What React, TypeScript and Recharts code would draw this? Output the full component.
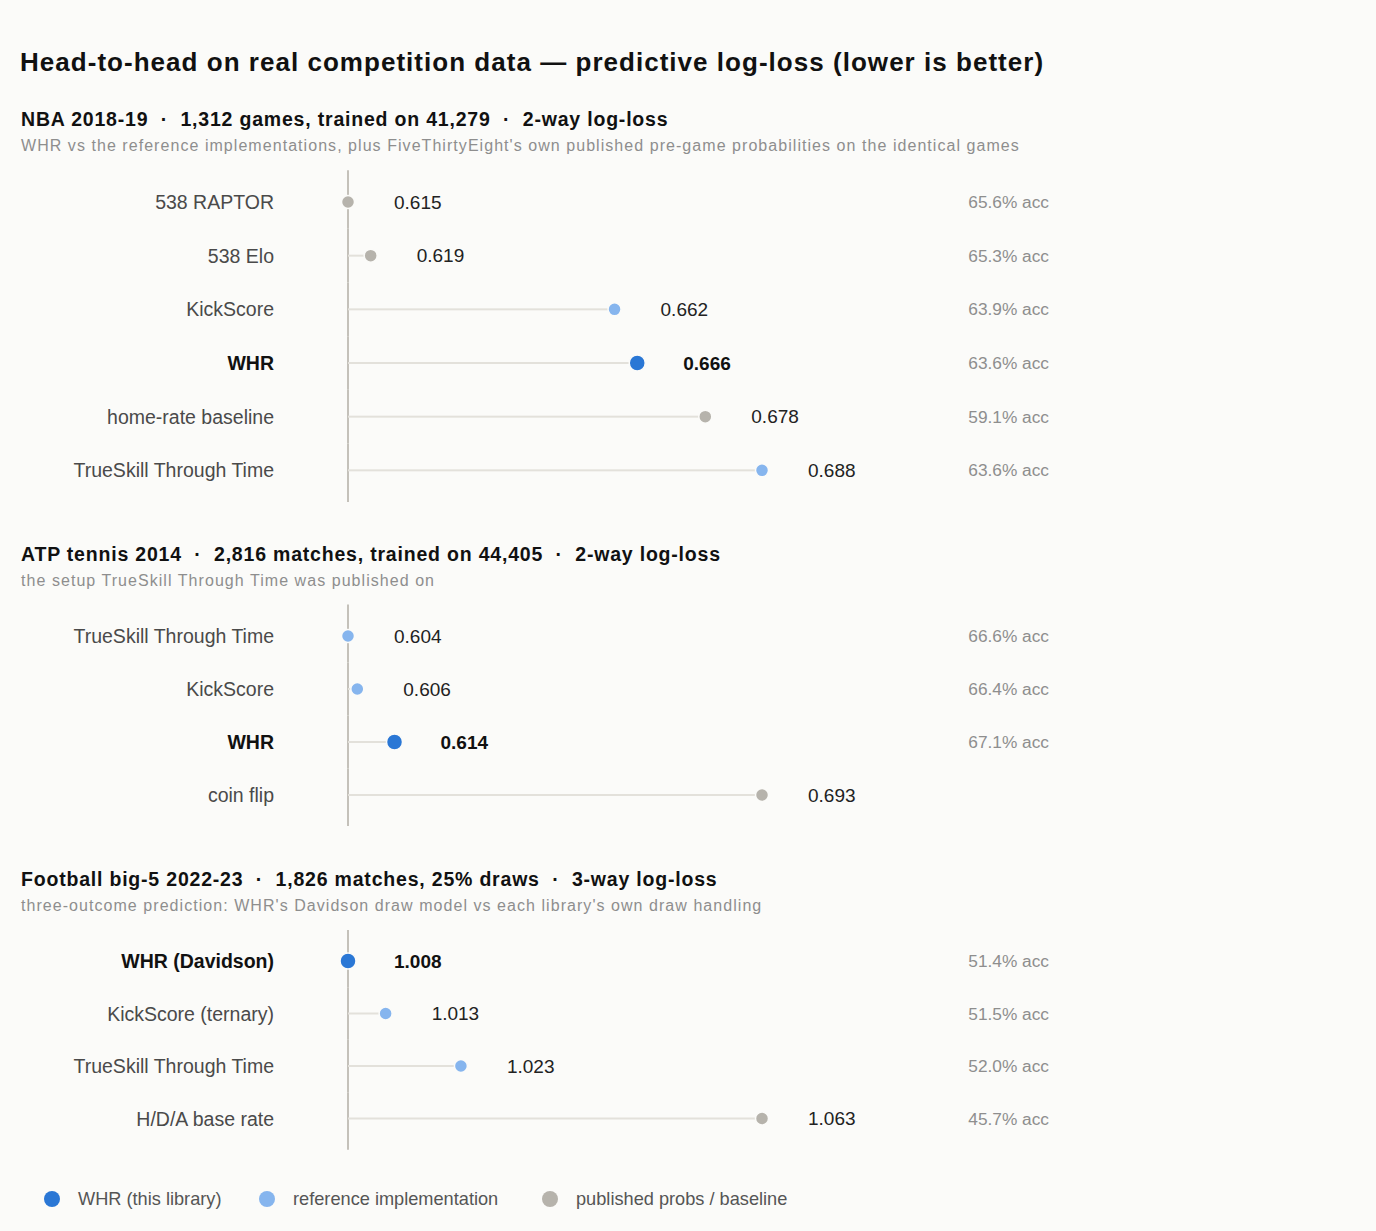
import React from 'react';
import { ComposedChart, Bar, XAxis, YAxis } from 'recharts';

// ---------- data ----------
const nbaNames = ['538 RAPTOR', '538 Elo', 'KickScore', 'WHR', 'home-rate baseline', 'TrueSkill Through Time'];
const nbaLoss = [0.615, 0.619, 0.662, 0.666, 0.678, 0.688];
const nbaAcc = [65.6, 65.3, 63.9, 63.6, 59.1, 63.6];
const nbaKind = ['pub', 'pub', 'ref', 'whr', 'pub', 'ref'];

const atpNames = ['TrueSkill Through Time', 'KickScore', 'WHR', 'coin flip'];
const atpLoss = [0.604, 0.606, 0.614, 0.693];
const atpAcc: (number | null)[] = [66.6, 66.4, 67.1, null];
const atpKind = ['ref', 'ref', 'whr', 'pub'];

const fbNames = ['WHR (Davidson)', 'KickScore (ternary)', 'TrueSkill Through Time', 'H/D/A base rate'];
const fbLoss = [1.008, 1.013, 1.023, 1.063];
const fbAcc = [51.4, 51.5, 52.0, 45.7];
const fbKind = ['whr', 'ref', 'ref', 'pub'];

const legendKinds = ['whr', 'ref', 'pub'];
const legendLabels = ['WHR (this library)', 'reference implementation', 'published probs / baseline'];

// ---------- style ----------
const FONT = '"Liberation Sans", Arial, Helvetica, sans-serif';
const BG = '#fbfbf9';
const COLORS: Record<string, string> = { whr: '#2a77d5', ref: '#86b5ee', pub: '#b6b3ac' };
const AXIS = '#c4c1ba';
const PAD = 5;

type Row = { name: string; loss: number; acc: number | null; kind: string };
const build = (names: string[], loss: number[], acc: (number | null)[], kind: string[]): Row[] =>
  names.map((n, i) => ({ name: n, loss: loss[i], acc: acc[i], kind: kind[i] }));

const makeShape = (count: number, plotHeight: number) => (props: any) => {
  const { x, y, width, height, payload, index } = props;
  const band = (plotHeight - 2 * PAD) / count;
  const cy = y + height / 2;
  const cx = x + width;
  const isWhr = payload.kind === 'whr';
  const r = isWhr ? 8 : 6.5;
  let y0 = cy - band / 2;
  let y1 = cy + band / 2;
  if (index === 0) y0 -= PAD;
  if (index === count - 1) y1 += PAD;
  return (
    <g>
      <line x1={x} x2={x} y1={y0} y2={y1} stroke={AXIS} strokeWidth={2} />
      <rect x={x} y={cy - 1} width={Math.max(width, 0)} height={2} fill="#e3e1db" />
      <circle cx={cx} cy={cy} r={r} fill={COLORS[payload.kind]} stroke={BG} strokeWidth={1.5} />
      <text
        x={cx + 46}
        y={cy + 6.5}
        fontFamily={FONT}
        fontSize={19}
        fontWeight={isWhr ? 700 : 400}
        fill={isWhr ? '#111' : '#222'}
      >
        {payload.loss.toFixed(3)}
      </text>
    </g>
  );
};

const makeTick = (rows: Row[]) => (props: any) => {
  const { x, y, payload } = props;
  const row = rows.find((r) => r.name === payload.value);
  const isWhr = row?.kind === 'whr';
  return (
    <g>
      <text
        x={x}
        y={y + 7}
        textAnchor="end"
        fontFamily={FONT}
        fontSize={19.5}
        fontWeight={isWhr ? 700 : 400}
        fill={isWhr ? '#111' : '#4a4a4a'}
      >
        {payload.value}
      </text>
      {row && row.acc != null ? (
        <text x={x + 775} y={y + 6} textAnchor="end" fontFamily={FONT} fontSize={17.3} fill="#8e8e8e">
          {row.acc.toFixed(1) + '% acc'}
        </text>
      ) : null}
    </g>
  );
};

const Panel = ({ rows, top, height }: { rows: Row[]; top: number; height: number }) => (
  <div style={{ position: 'absolute', left: 0, top }}>
    <ComposedChart
      layout="vertical"
      width={1100}
      height={height}
      data={rows}
      margin={{ top: 0, right: 346, bottom: 0, left: 0 }}
    >
      <XAxis type="number" dataKey="loss" domain={['dataMin', 'dataMax']} hide />
      <YAxis
        type="category"
        dataKey="name"
        width={340}
        padding={{ top: PAD, bottom: PAD }}
        axisLine={false}
        tickLine={false}
        tickSize={0}
        tickMargin={74}
        interval={0}
        tick={makeTick(rows)}
      />
      <Bar dataKey="loss" barSize={2} isAnimationActive={false} shape={makeShape(rows.length, height)} />
    </ComposedChart>
  </div>
);

const Text = ({ top, left, size, bold, color, spacing, children }: any) => (
  <div
    style={{
      position: 'absolute',
      top,
      left,
      fontSize: size,
      lineHeight: 1,
      fontWeight: bold ? 700 : 400,
      color,
      letterSpacing: spacing || 0,
      whiteSpace: 'nowrap',
      fontFamily: FONT,
    }}
  >
    {children}
  </div>
);

export default function App() {
  if (typeof document !== 'undefined') {
    document.body.style.background = BG;
  }
  const nba = build(nbaNames, nbaLoss, nbaAcc, nbaKind);
  const atp = build(atpNames, atpLoss, atpAcc, atpKind);
  const fb = build(fbNames, fbLoss, fbAcc, fbKind);
  const hSize = 19.5;
  const hSp = 0.8;
  const sSize = 16;
  const sSp = 1.05;
  return (
    <div style={{ position: 'relative', width: 1360, height: 1215, background: BG, fontFamily: FONT }}>
      <Text top={41} left={12} size={26} bold color="#111" spacing={1.03}>
        Head-to-head on real competition data — predictive log-loss (lower is better)
      </Text>

      <Text top={102} left={13} size={hSize} bold color="#111" spacing={hSp}>
        NBA 2018-19 &nbsp;·&nbsp; 1,312 games, trained on 41,279 &nbsp;·&nbsp; 2-way log-loss
      </Text>
      <Text top={130} left={13} size={sSize} color="#8e8e8e" spacing={sSp}>
        WHR vs the reference implementations, plus FiveThirtyEight's own published pre-game probabilities on the identical games
      </Text>
      <Panel rows={nba} top={162} height={332} />

      <Text top={537} left={13} size={hSize} bold color="#111" spacing={hSp}>
        ATP tennis 2014 &nbsp;·&nbsp; 2,816 matches, trained on 44,405 &nbsp;·&nbsp; 2-way log-loss
      </Text>
      <Text top={565} left={13} size={sSize} color="#8e8e8e" spacing={sSp}>
        the setup TrueSkill Through Time was published on
      </Text>
      <Panel rows={atp} top={596} height={222} />

      <Text top={862} left={13} size={hSize} bold color="#111" spacing={hSp}>
        Football big-5 2022-23 &nbsp;·&nbsp; 1,826 matches, 25% draws &nbsp;·&nbsp; 3-way log-loss
      </Text>
      <Text top={890} left={13} size={sSize} color="#8e8e8e" spacing={sSp}>
        three-outcome prediction: WHR's Davidson draw model vs each library's own draw handling
      </Text>
      <Panel rows={fb} top={922} height={220} />

      {legendKinds.map((k, i) => {
        const lefts = [35, 250, 533];
        return (
          <div key={k} style={{ position: 'absolute', top: 1182, left: lefts[i], display: 'flex', alignItems: 'center', height: 18 }}>
            <svg width={18} height={18} style={{ display: 'block' }}>
              <circle cx={9} cy={9} r={8} fill={COLORS[k]} />
            </svg>
            <span style={{ marginLeft: 17, fontSize: 18.2, lineHeight: 1, color: '#555', whiteSpace: 'nowrap', fontFamily: FONT }}>
              {legendLabels[i]}
            </span>
          </div>
        );
      })}
    </div>
  );
}
